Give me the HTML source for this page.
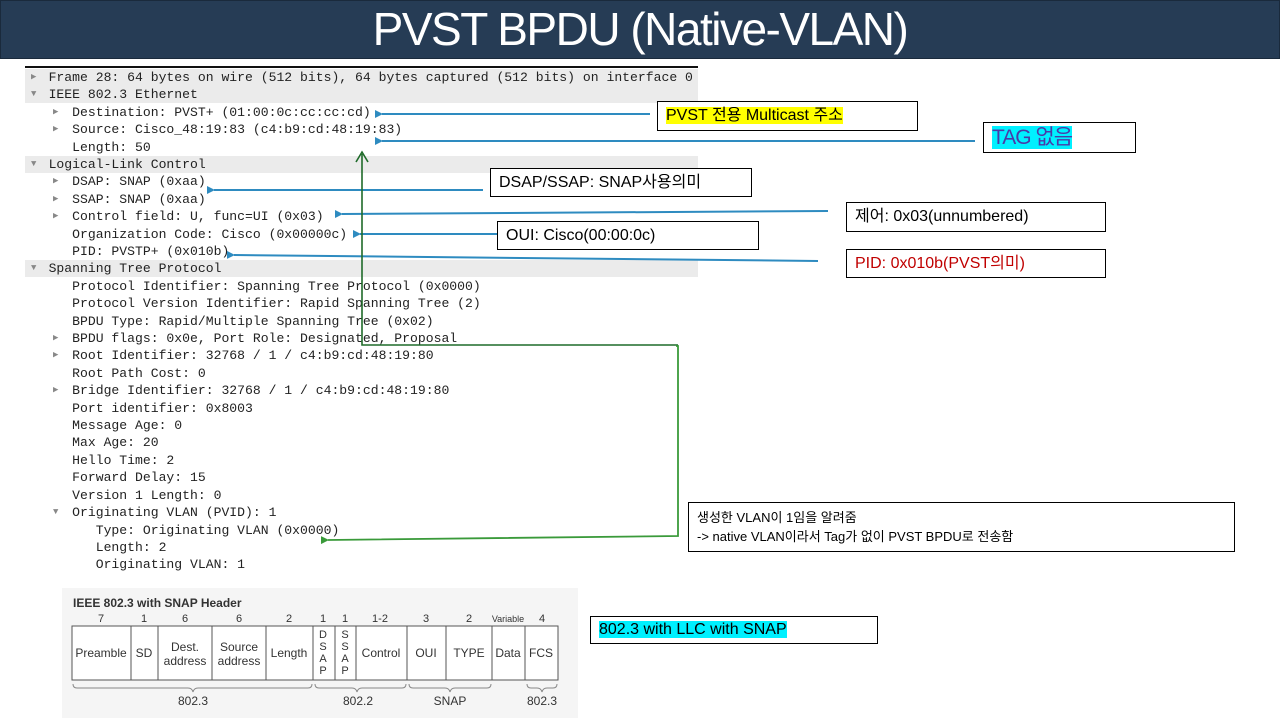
<!DOCTYPE html>
<html><head><meta charset="utf-8">
<style>
body{margin:0;width:1280px;height:720px;position:relative;background:#fff;overflow:hidden;font-family:"Liberation Sans","Noto Sans CJK KR",sans-serif}
#title{position:absolute;left:0;top:0;width:1278px;height:57px;background:#263c55;border:1px solid #1a2a3c;color:#fff;font-size:46px;text-align:center;line-height:57px;letter-spacing:-1.5px}
.row{position:absolute;left:25px;width:673px;height:17px;line-height:17px;font-family:"Liberation Mono",monospace;font-size:13.1px;color:#222;white-space:pre}
.g{background:#ebebeb}
.t{position:absolute;font-size:9px;color:#888;top:0}
.box{position:absolute;border:1px solid #000;background:#fff;font-size:16px;box-sizing:border-box;padding-left:8px;white-space:nowrap}
</style></head><body>
<div id="title">PVST BPDU (Native-VLAN)</div>
<div style="position:absolute;left:25px;top:66px;width:673px;height:2px;background:#111"></div>

<div class="row g" style="top:69px"><span class="t" style="left:6px">▶</span>   Frame 28: 64 bytes on wire (512 bits), 64 bytes captured (512 bits) on interface 0</div>
<div class="row g" style="top:86px"><span class="t" style="left:6px">▼</span>   IEEE 802.3 Ethernet</div>
<div class="row" style="top:104px"><span class="t" style="left:28px">▶</span>      Destination: PVST+ (01:00:0c:cc:cc:cd)</div>
<div class="row" style="top:121px"><span class="t" style="left:28px">▶</span>      Source: Cisco_48:19:83 (c4:b9:cd:48:19:83)</div>
<div class="row" style="top:139px">      Length: 50</div>
<div class="row g" style="top:156px"><span class="t" style="left:6px">▼</span>   Logical-Link Control</div>
<div class="row" style="top:173px"><span class="t" style="left:28px">▶</span>      DSAP: SNAP (0xaa)</div>
<div class="row" style="top:191px"><span class="t" style="left:28px">▶</span>      SSAP: SNAP (0xaa)</div>
<div class="row" style="top:208px"><span class="t" style="left:28px">▶</span>      Control field: U, func=UI (0x03)</div>
<div class="row" style="top:226px">      Organization Code: Cisco (0x00000c)</div>
<div class="row" style="top:243px">      PID: PVSTP+ (0x010b)</div>
<div class="row g" style="top:260px"><span class="t" style="left:6px">▼</span>   Spanning Tree Protocol</div>
<div class="row" style="top:278px">      Protocol Identifier: Spanning Tree Protocol (0x0000)</div>
<div class="row" style="top:295px">      Protocol Version Identifier: Rapid Spanning Tree (2)</div>
<div class="row" style="top:313px">      BPDU Type: Rapid/Multiple Spanning Tree (0x02)</div>
<div class="row" style="top:330px"><span class="t" style="left:28px">▶</span>      BPDU flags: 0x0e, Port Role: Designated, Proposal</div>
<div class="row" style="top:347px"><span class="t" style="left:28px">▶</span>      Root Identifier: 32768 / 1 / c4:b9:cd:48:19:80</div>
<div class="row" style="top:365px">      Root Path Cost: 0</div>
<div class="row" style="top:382px"><span class="t" style="left:28px">▶</span>      Bridge Identifier: 32768 / 1 / c4:b9:cd:48:19:80</div>
<div class="row" style="top:400px">      Port identifier: 0x8003</div>
<div class="row" style="top:417px">      Message Age: 0</div>
<div class="row" style="top:434px">      Max Age: 20</div>
<div class="row" style="top:452px">      Hello Time: 2</div>
<div class="row" style="top:469px">      Forward Delay: 15</div>
<div class="row" style="top:487px">      Version 1 Length: 0</div>
<div class="row" style="top:504px"><span class="t" style="left:28px">▼</span>      Originating VLAN (PVID): 1</div>
<div class="row" style="top:522px">         Type: Originating VLAN (0x0000)</div>
<div class="row" style="top:539px">         Length: 2</div>
<div class="row" style="top:556px">         Originating VLAN: 1</div>

<svg style="position:absolute;left:0;top:0" width="1280" height="720">
<defs>
<marker id="ab" markerWidth="8" markerHeight="8" refX="1" refY="4" orient="auto" markerUnits="userSpaceOnUse"><path d="M8,0 L0,4 L8,8 z" fill="#2e8bc0"/></marker>
<marker id="ag" markerWidth="8" markerHeight="8" refX="1" refY="4" orient="auto" markerUnits="userSpaceOnUse"><path d="M8,0 L0,4 L8,8 z" fill="#3a9a3a"/></marker>
</defs>
<g stroke="#2e8bc0" stroke-width="2" fill="none">
<line x1="650" y1="114" x2="382" y2="114" marker-end="url(#ab)"/>
<line x1="975" y1="141" x2="382" y2="141" marker-end="url(#ab)"/>
<line x1="483" y1="190" x2="214" y2="190" marker-end="url(#ab)"/>
<line x1="828" y1="211" x2="342" y2="214" marker-end="url(#ab)"/>
<line x1="497" y1="234" x2="360" y2="234" marker-end="url(#ab)"/>
<line x1="818" y1="261" x2="234" y2="255" marker-end="url(#ab)"/>
</g>
<g stroke="#1f6b2a" stroke-width="1.6" fill="none">
<polyline points="678,345 362,345 362,154"/>
<polyline points="356,162 362,152 368,162"/>
</g>
<g stroke="#3a9a3a" stroke-width="1.8" fill="none">
<polyline points="676,346 678,346 678,536 328,540" marker-end="url(#ag)"/>
</g>
</svg>

<div class="box" style="left:657px;top:101px;width:261px;height:30px;line-height:28px"><span style="background:#ffff00">PVST 전용 Multicast 주소</span></div>
<div class="box" style="left:983px;top:122px;width:153px;height:31px;line-height:29px;font-size:21px;color:#4a3aa8;padding-left:8px"><span style="background:#00f0ff;letter-spacing:-1px">TAG 없음</span></div>
<div class="box" style="left:490px;top:168px;width:262px;height:29px;line-height:27px">DSAP/SSAP: SNAP사용의미</div>
<div class="box" style="left:497px;top:221px;width:262px;height:29px;line-height:27px">OUI: Cisco(00:00:0c)</div>
<div class="box" style="left:846px;top:202px;width:260px;height:30px;line-height:28px">제어: 0x03(unnumbered)</div>
<div class="box" style="left:846px;top:249px;width:260px;height:29px;line-height:27px;color:#c00000">PID: 0x010b(PVST의미)</div>
<div class="box" style="left:688px;top:502px;width:547px;height:50px;font-size:13px;line-height:19px;padding-top:5px">생성한 VLAN이 1임을 알려줌<br>-&gt; native VLAN이라서 Tag가 없이 PVST BPDU로 전송함</div>
<div class="box" style="left:590px;top:616px;width:288px;height:28px;line-height:26px"><span style="background:#00f0ff">802.3 with LLC with SNAP</span></div>

<svg style="position:absolute;left:62px;top:588px" width="516" height="130" font-family="Liberation Sans,sans-serif">
<rect x="0" y="0" width="516" height="130" fill="#f5f5f5"/>
<g transform="translate(-62,-588)" fill="#333" font-size="12">
<text x="73" y="607" font-weight="bold" font-size="12">IEEE 802.3 with SNAP Header</text>
<g text-anchor="middle" font-size="11">
<text x="101" y="622">7</text><text x="144" y="622">1</text><text x="185" y="622">6</text><text x="239" y="622">6</text><text x="289" y="622">2</text><text x="323" y="622">1</text><text x="345" y="622">1</text><text x="380" y="622">1-2</text><text x="426" y="622">3</text><text x="469" y="622">2</text><text x="508" y="622" font-size="9">Variable</text><text x="542" y="622">4</text>
</g>
<rect x="72" y="626" width="486" height="54" fill="#fff" stroke="#555"/>
<g stroke="#555">
<line x1="131" y1="626" x2="131" y2="680"/><line x1="158" y1="626" x2="158" y2="680"/><line x1="212" y1="626" x2="212" y2="680"/><line x1="266" y1="626" x2="266" y2="680"/><line x1="313" y1="626" x2="313" y2="680"/><line x1="335" y1="626" x2="335" y2="680"/><line x1="356" y1="626" x2="356" y2="680"/><line x1="407" y1="626" x2="407" y2="680"/><line x1="446" y1="626" x2="446" y2="680"/><line x1="492" y1="626" x2="492" y2="680"/><line x1="525" y1="626" x2="525" y2="680"/>
</g>
<g text-anchor="middle" font-size="12">
<text x="101" y="657">Preamble</text><text x="144" y="657">SD</text>
<text x="185" y="651">Dest.</text><text x="185" y="665">address</text>
<text x="239" y="651">Source</text><text x="239" y="665">address</text>
<text x="289" y="657">Length</text>
<text x="323" y="638" font-size="11">D</text><text x="323" y="650" font-size="11">S</text><text x="323" y="662" font-size="11">A</text><text x="323" y="674" font-size="11">P</text>
<text x="345" y="638" font-size="11">S</text><text x="345" y="650" font-size="11">S</text><text x="345" y="662" font-size="11">A</text><text x="345" y="674" font-size="11">P</text>
<text x="381" y="657">Control</text><text x="426" y="657">OUI</text><text x="469" y="657">TYPE</text><text x="508" y="657">Data</text><text x="541" y="657">FCS</text>
</g>
<g stroke="#888" fill="none">
<path d="M73,684 q0,4 4,4 L188,688 q4,0 5,4 q1,-4 5,-4 L308,688 q4,0 4,-4"/>
<path d="M315,684 q0,4 4,4 L352,688 q4,0 5,4 q1,-4 5,-4 L402,688 q4,0 4,-4"/>
<path d="M409,684 q0,4 4,4 L445,688 q4,0 5,4 q1,-4 5,-4 L487,688 q4,0 4,-4"/>
<path d="M527,684 q0,4 4,4 L537,688 q4,0 5,4 q1,-4 5,-4 L553,688 q4,0 4,-4"/>
</g>
<g text-anchor="middle" font-size="12">
<text x="193" y="705">802.3</text><text x="358" y="705">802.2</text><text x="450" y="705">SNAP</text><text x="542" y="705">802.3</text>
</g>
</g>
</svg>
</body></html>
